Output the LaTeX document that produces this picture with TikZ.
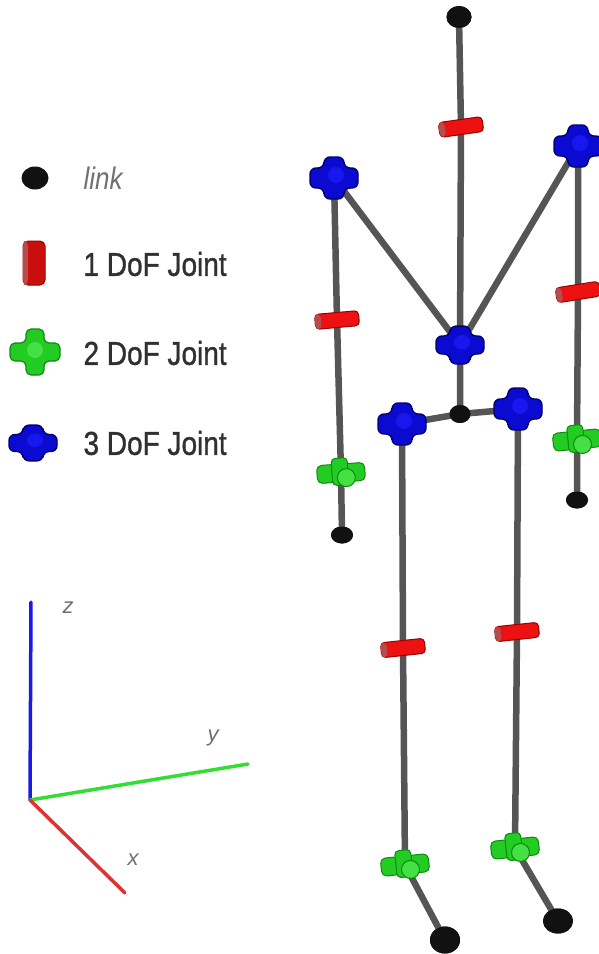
\documentclass[tikz,border=0pt]{standalone}
\usepackage{fontspec}
\setmainfont{Liberation Sans}
\newfontfamily\legendfont[FakeBold=1.2]{Liberation Sans}
\usetikzlibrary{shapes.geometric}
\definecolor{barc}{HTML}{555555}
\definecolor{linkc}{HTML}{111111}
\definecolor{jred}{HTML}{EE1111}
\definecolor{jreddk}{HTML}{9A0000}
\definecolor{jgreen}{HTML}{22CC22}
\definecolor{jgreenlt}{HTML}{44E044}
\definecolor{jgreendk}{HTML}{118811}
\definecolor{jblue}{HTML}{0A0AD0}
\definecolor{jbluelt}{HTML}{1818EE}
\definecolor{jbluedk}{HTML}{00006E}
\definecolor{txtc}{HTML}{303030}
\definecolor{lblc}{HTML}{707070}
\definecolor{axz}{HTML}{1A1AE6}
\definecolor{axy}{HTML}{33DD33}
\definecolor{axx}{HTML}{DD3333}
\tikzset{
  bar/.style={draw=barc, line width=6.5pt},
  linkdot/.style={ellipse, fill=linkc, inner sep=0pt, minimum width=#1},
  legendtext/.style={anchor=west, text=txtc, font=\legendfont\fontsize{28}{32}\selectfont, yscale=1.18, transform shape},
  axislabel/.style={text=lblc, font=\itshape\fontsize{22}{26}\selectfont},
  axisline/.style={line width=3.5pt, line cap=round},
  % single-axis joint: short cylinder
  onedof/.pic={
    \filldraw[fill=jred, draw=jreddk, line width=1pt, rounded corners=4pt]
      (-22,-7.5) rectangle (22,7.5);
    \fill[jreddk!70] (-22,-7.5) [rounded corners=4pt] rectangle (-16,7.5);
  },
  legendone/.pic={
    \filldraw[fill=jred!85!black, draw=jreddk, line width=1pt, rounded corners=5pt]
      (-11,-22) rectangle (11,22);
    \fill[jreddk!70] (-11,-22) [rounded corners=5pt] rectangle (-6,22);
  },
  % two-axis joint: cylinder with a cross knob
  twodof/.pic={
    \filldraw[fill=jgreen, draw=jgreendk, line width=1pt, rounded corners=5pt]
      (-24,-9) rectangle (24,9);
    \filldraw[fill=jgreen, draw=jgreendk, line width=1pt, rounded corners=4pt]
      (-9,-15) rectangle (7,12);
    \filldraw[fill=jgreenlt, draw=jgreendk, line width=1pt] (5,5) circle (9);
  },
  greencross/.pic={
    \filldraw[fill=jgreen, draw=jgreendk, line width=1.2pt, rounded corners=5pt]
      (-25,-9) -- (-9,-9) -- (-9,-23) -- (9,-23) -- (9,-9) -- (25,-9)
      -- (25,9) -- (9,9) -- (9,23) -- (-9,23) -- (-9,9) -- (-25,9) -- cycle;
    \fill[jgreenlt] (0,-2) circle (8);
  },
  % three-axis joint: ball with crossed stubs
  threedof/.pic={
    \filldraw[fill=jblue, draw=jbluedk, line width=1.4pt, rounded corners=6pt]
      (-24,-10) -- (-10,-10) -- (-10,-21) -- (10,-21) -- (10,-10) -- (24,-10)
      -- (24,10) -- (10,10) -- (10,21) -- (-10,21) -- (-10,10) -- (-24,10) -- cycle;
    \fill[jbluelt] (2,-3) circle (8);
  },
}
\begin{document}
\begin{tikzpicture}[x=1pt, y=-1pt]
\useasboundingbox (0,0) rectangle (599,954);

% ---- skeleton: joints and links ----
\node[linkdot=25pt, minimum height=22pt] (head) at (459,17) {};
\coordinate (neck) at (461,127);
\coordinate (torso) at (460,345);
\node[linkdot=21pt, minimum height=18pt] (pelvis) at (460,414) {};
\coordinate (shL) at (334,178);
\coordinate (shR) at (578,146);
\coordinate (elL) at (337,320);
\coordinate (wrL) at (341,473);
\node[linkdot=22pt, minimum height=17pt] (handL) at (342,535) {};
\coordinate (elR) at (578,292);
\coordinate (wrR) at (577,440);
\node[linkdot=22pt, minimum height=17pt] (handR) at (577,500) {};
\coordinate (hipL) at (402,424);
\coordinate (hipR) at (518,409);
\coordinate (knL) at (403,648);
\coordinate (knR) at (517,632);
\coordinate (anL) at (405,865);
\coordinate (anR) at (515,848);
\node[linkdot=30pt, minimum height=27pt] (ftL) at (445,940) {};
\node[linkdot=30pt, minimum height=25pt] (ftR) at (558,921) {};

% rods
\draw[bar] (head.center) -- (neck) -- (torso) -- (pelvis.center);
\draw[bar] (shL) -- (torso) -- (shR);
\draw[bar] (shL) -- (elL) -- (wrL) -- (handL.center);
\draw[bar] (shR) -- (elR) -- (wrR) -- (handR.center);
\draw[bar] (hipL) -- (pelvis.center) -- (hipR);
\draw[bar] (hipL) -- (knL) -- (anL) -- (ftL.center);
\draw[bar] (hipR) -- (knR) -- (anR) -- (ftR.center);

% link ends redrawn above the rods
\foreach \n/\w/\h in {head/25/22, pelvis/21/18, handL/22/17, handR/22/17, ftL/30/27, ftR/30/25}
  \fill[linkc] (\n.center) ellipse ({\w/2} and {\h/2});

% joints
\pic[rotate=8] at (neck) {onedof};
\pic[rotate=5] at (elL) {onedof};
\pic[rotate=9] at (elR) {onedof};
\pic[rotate=6] at (knL) {onedof};
\pic[rotate=6] at (knR) {onedof};
\pic[rotate=4] at (wrL) {twodof};
\pic[rotate=6] at (wrR) {twodof};
\pic[rotate=6] at (anL) {twodof};
\pic[rotate=6] at (anR) {twodof};
\pic at (shL) {threedof};
\pic at (shR) {threedof};
\pic[yscale=0.9] at (torso) {threedof};
\pic at (hipL) {threedof};
\pic at (hipR) {threedof};

% ---- legend ----
\node[linkdot=27pt, minimum height=23pt] (lgLink) at (35,178) {};
\node[anchor=west, text=lblc, font=\itshape\fontsize{26}{30}\selectfont, yscale=1.2, transform shape] (lgLinkTxt) at (80,178) {link};
\coordinate (lgOne) at (34,263);
\pic at (lgOne) {legendone};
\node[legendtext] (lgOneTxt) at (80,264) {1 DoF Joint};
\coordinate (lgTwo) at (35,352);
\pic at (lgTwo) {greencross};
\node[legendtext] (lgTwoTxt) at (80,353) {2 DoF Joint};
\coordinate (lgThree) at (33,443);
\pic[yscale=0.85] at (lgThree) {threedof};
\node[legendtext] (lgThreeTxt) at (80,443) {3 DoF Joint};

% ---- coordinate frame ----
\coordinate (O) at (30,800);
\coordinate (Z) at (31,602);
\coordinate (Y) at (248,764);
\coordinate (X) at (125,893);
\draw[axisline, draw=axz] (O) -- (Z);
\draw[axisline, draw=axy] (O) -- (Y);
\draw[axisline, draw=axx] (O) -- (X);
\node[axislabel] (zl) at (68,608) {z};
\node[axislabel] (yl) at (213,738) {y};
\node[axislabel] (xl) at (133,860) {x};
\end{tikzpicture}
\end{document}
